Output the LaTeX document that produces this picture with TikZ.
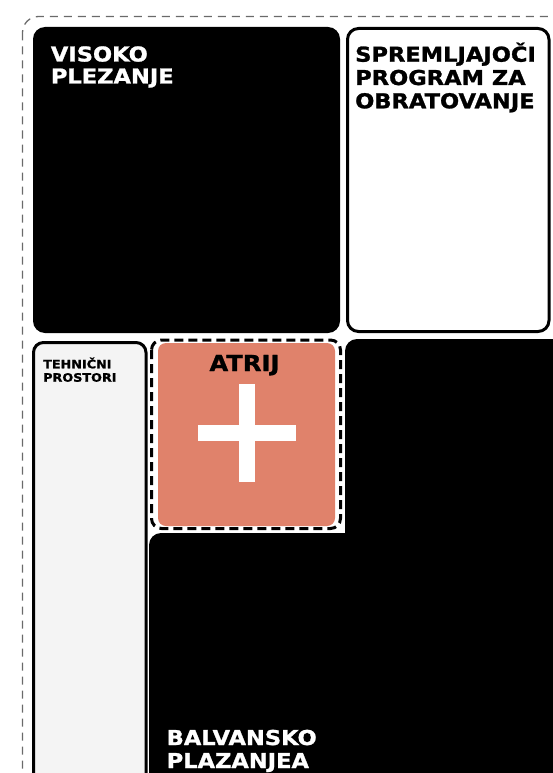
\documentclass[tikz,border=0pt]{standalone}
\usepackage{fontspec}
\setmainfont{DejaVu Sans}[FakeStretch=1.1, BoldFeatures={FakeBold=1.3}]
\definecolor{techgray}{HTML}{F4F4F4}
\definecolor{salmon}{HTML}{E0826B}
\definecolor{outergray}{HTML}{6A6A6A}
\begin{document}
\begin{tikzpicture}[x=1pt,y=-1pt,
  big/.style={font=\bfseries\fontsize{20.5}{24}\selectfont, anchor=base west, inner sep=0pt},
  small/.style={font=\bfseries\fontsize{11.6}{13}\selectfont, anchor=base west, inner sep=0pt},
  blackblock/.style={fill=black, rounded corners=12pt},
  whitebox/.style={draw=black, line width=3pt, rounded corners=11pt}]
\useasboundingbox (0,0) rectangle (553,773);
\clip (0,0) rectangle (553,773);
% outer dashed boundary
\draw[outergray, line width=1.3pt, dash pattern=on 8pt off 6pt, rounded corners=16pt] (22.5,16.5) rectangle (570,800);
% visoko plezanje
\path[blackblock] (33,27) rectangle (340,333);
% spremljajoci program
\path[whitebox, fill=white] (347.5,28.5) rectangle (549,331.5);
% tehnicni prostori
\path[whitebox, fill=techgray, rounded corners=10pt] (33.5,342.5) rectangle (146,800);
% balvansko (L shape)
\path[blackblock] (345,339) rectangle (575,800);
\path[blackblock] (149,533) rectangle (575,800);
% atrij
\fill[white, rounded corners=12pt] (148.5,336) rectangle (344,532);
\draw[line width=3pt, dash pattern=on 9pt off 5pt, rounded corners=10pt] (151.5,340) rectangle (340.5,528.5);
\fill[salmon, rounded corners=8pt] (158,343) rectangle (335,526);
\fill[white] (239,384) rectangle (255,482);
\fill[white] (198,425) rectangle (296,441);
% labels
\node[big, text=white] (vis1) at (50.7,61.5) {VISOKO};
\node[big, text=white] (vis2) at (50.7,83.5) {PLEZANJE};
\node[big] (spr1) at (355,61.7) {SPREMLJAJOČI};
\node[big] (spr2) at (355,85) {PROGRAM ZA};
\node[big] (spr3) at (355,108.3) {OBRATOVANJE};
\node[small] (teh1) at (43,368.3) {TEHNIČNI};
\node[small] (teh2) at (43,381.7) {PROSTORI};
\node[font=\bfseries\fontsize{22}{26}\selectfont, anchor=base, inner sep=0pt] (atrij) at (244.5,371) {ATRIJ};
\node[big, text=white] (bal1) at (166.5,745) {BALVANSKO};
\node[big, text=white] (bal2) at (166.5,768) {PLAZANJEA};
\end{tikzpicture}
\end{document}
